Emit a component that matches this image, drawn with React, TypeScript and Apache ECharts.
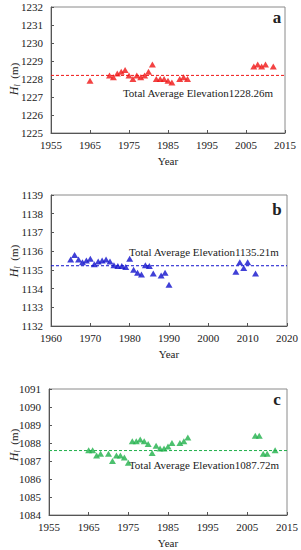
import React, { useEffect, useRef } from "react";
import * as echarts from "echarts";

const yearsA = [1965, 1970, 1971, 1972, 1973, 1974, 1975, 1976, 1977, 1978, 1979, 1980, 1981, 1982, 1983, 1984, 1985, 1986, 1988, 1989, 1990, 2007, 2008, 2009, 2010, 2012];
const valuesA = [1227.9, 1228.2, 1228.1, 1228.3, 1228.4, 1228.5, 1228.2, 1228.0, 1228.2, 1228.1, 1228.2, 1228.4, 1228.8, 1228.0, 1228.0, 1228.0, 1227.9, 1227.8, 1228.0, 1228.1, 1228.0, 1228.7, 1228.8, 1228.7, 1228.8, 1228.7];

const yearsB = [1965, 1966, 1967, 1968, 1969, 1970, 1971, 1972, 1973, 1974, 1975, 1976, 1977, 1978, 1979, 1980, 1981, 1982, 1983, 1984, 1985, 1986, 1988, 1989, 1990, 2007, 2008, 2009, 2010, 2012];
const valuesB = [1135.55, 1135.8, 1135.55, 1135.4, 1135.5, 1135.6, 1135.3, 1135.45, 1135.5, 1135.55, 1135.45, 1135.25, 1135.2, 1135.2, 1135.15, 1135.6, 1135.0, 1134.85, 1134.75, 1135.25, 1135.2, 1134.8, 1134.7, 1134.85, 1134.2, 1134.9, 1135.4, 1135.1, 1135.4, 1134.8];

const yearsC = [1965, 1966, 1967, 1968, 1970, 1971, 1972, 1973, 1974, 1975, 1976, 1977, 1978, 1979, 1980, 1981, 1982, 1983, 1984, 1985, 1986, 1988, 1989, 1990, 2007, 2008, 2009, 2010, 2012];
const valuesC = [1087.6, 1087.6, 1087.3, 1087.4, 1087.4, 1087.0, 1087.3, 1087.3, 1087.2, 1086.9, 1088.1, 1088.1, 1088.2, 1088.1, 1087.95, 1087.45, 1087.85, 1087.7, 1087.7, 1087.8, 1088.0, 1088.0, 1088.1, 1088.3, 1088.4, 1088.4, 1087.4, 1087.4, 1087.6];

const avgLines = [1228.2, 1135.22, 1087.58];
const avgLabels = ["Total Average Elevation1228.26m", "Total Average Elevation1135.21m", "Total Average Elevation1087.72m"];
const panelLetters = ["a", "b", "c"];
const xRanges = [[1955, 2015], [1960, 2020], [1955, 2015]];
const yRanges = [[1225, 1232], [1132, 1139], [1084, 1091]];
const colors = ["#f01414", "#1010cc", "#1fb04a"];

const FONT = "'Liberation Serif', 'Times New Roman', serif";

export default function App() {
  const ref = useRef<HTMLDivElement>(null);
  useEffect(() => {
    if (!ref.current) return;
    const chart = echarts.init(ref.current, null, { renderer: "svg" });
    const grids = [
      { left: 51, right: 16, top: 7, height: 126 },
      { left: 51, right: 14, top: 195, height: 131 },
      { left: 49, right: 14, top: 389, height: 126 },
    ];
    const years = [yearsA, yearsB, yearsC];
    const vals = [valuesA, valuesB, valuesC];
    const labelPos = [
      { x: 198, y: 93 },
      { x: 204, y: 252 },
      { x: 204, y: 465 },
    ];
    const letterPos = [
      { x: 277, y: 17 },
      { x: 277, y: 209 },
      { x: 277, y: 399 },
    ];
    const yTitlePos = [
      { x: 14, y: 79 },
      { x: 14, y: 261 },
      { x: 14, y: 445 },
    ];
    const plain = (v: number) => String(v);
    const option: any = {
      animation: false,
      grid: grids.map((g) => ({ ...g, show: true, borderColor: "#8a8a8a", borderWidth: 1, backgroundColor: "transparent" })),
      xAxis: grids.map((_, i) => ({
        type: "value",
        gridIndex: i,
        min: xRanges[i][0],
        max: xRanges[i][1],
        interval: 10,
        name: "Year",
        nameLocation: "middle",
        nameGap: 22,
        nameTextStyle: { fontFamily: FONT, fontSize: 11, color: "#222" },
        axisLine: { show: true, lineStyle: { color: "#555", width: 1 } },
        axisTick: { show: true, inside: true, length: 3, lineStyle: { color: "#555" } },
        axisLabel: { fontFamily: FONT, fontSize: 11, color: "#222", margin: 6, formatter: plain },
        splitLine: { show: false },
      })),
      yAxis: grids.map((_, i) => ({
        type: "value",
        gridIndex: i,
        min: yRanges[i][0],
        max: yRanges[i][1],
        interval: 1,
        axisLine: { show: true, lineStyle: { color: "#555", width: 1 } },
        axisTick: { show: true, inside: true, length: 3, lineStyle: { color: "#555" } },
        axisLabel: { fontFamily: FONT, fontSize: 11, color: "#222", margin: 8, formatter: plain },
        splitLine: { show: false },
      })),
      series: [
        ...grids.map((_, i) => ({
          type: "line",
          xAxisIndex: i,
          yAxisIndex: i,
          symbol: "none",
          silent: true,
          lineStyle: { type: [3, 2], color: colors[i], width: 1 },
          data: [
            [xRanges[i][0], avgLines[i]],
            [xRanges[i][1], avgLines[i]],
          ],
        })),
        ...grids.map((_, i) => ({
          type: "scatter",
          xAxisIndex: i,
          yAxisIndex: i,
          symbol: "triangle",
          symbolSize: [7, 6],
          itemStyle: { color: colors[i] },
          data: years[i].map((y, k) => [y, vals[i][k]]),
        })),
      ],
      graphic: [
        ...labelPos.map((p, i) => ({
          type: "text",
          x: p.x,
          y: p.y,
          style: {
            text: avgLabels[i],
            fontFamily: FONT,
            fontSize: 11,
            fill: "#222",
            align: "center",
            verticalAlign: "middle",
          },
        })),
        ...letterPos.map((p, i) => ({
          type: "text",
          x: p.x,
          y: p.y,
          style: {
            text: panelLetters[i],
            fontFamily: FONT,
            fontSize: 17,
            fontWeight: "bold",
            fill: "#222",
            align: "center",
            verticalAlign: "middle",
          },
        })),
        ...yTitlePos.map((p) => ({
          type: "text",
          x: p.x,
          y: p.y,
          rotation: Math.PI / 2,
          style: {
            text: "{h|H}{s|l}{n|  (m)}",
            align: "center",
            verticalAlign: "middle",
            rich: {
              h: { fontFamily: FONT, fontSize: 12, fontStyle: "italic", fill: "#222" },
              s: { fontFamily: FONT, fontSize: 8, fontStyle: "italic", fill: "#222", padding: [6, 0, 0, 0] },
              n: { fontFamily: FONT, fontSize: 11, fill: "#222" },
            },
          },
        })),
      ],
    };
    chart.setOption(option);
    return () => chart.dispose();
  }, []);
  return (
    <div
      ref={ref}
      style={{ position: "fixed", left: 0, top: 0, width: 301, height: 550, background: "#fff" }}
    />
  );
}
